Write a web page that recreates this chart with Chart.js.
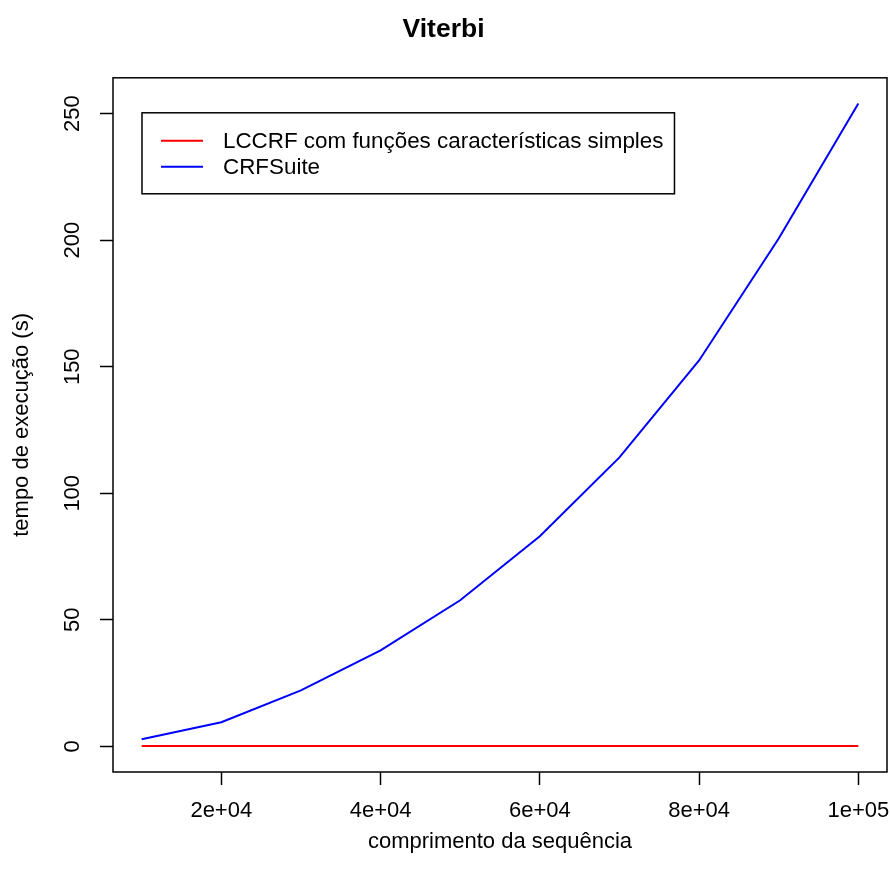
<!DOCTYPE html>
<html>
<head>
<meta charset="utf-8">
<script src="https://cdn.jsdelivr.net/npm/chart.js@4"></script>
<style>
  html, body { margin: 0; padding: 0; background: #ffffff; }
  #wrap { width: 891px; height: 880px; }
</style>
</head>
<body>
<div id="wrap"><canvas id="viterbiChart" width="891" height="880"></canvas></div>
<script>
// sequence lengths
const seqLengths = [10000, 20000, 30000, 40000, 50000, 60000, 70000, 80000, 90000, 100000];
// execution time (s)
const lccrfTimes = [0.1, 0.1, 0.1, 0.1, 0.1, 0.1, 0.1, 0.1, 0.1, 0.1];
const crfsuiteTimes = [2.8, 9.5, 22.1, 37.9, 57.7, 83.0, 114.2, 152.5, 200.7, 254.0];

const seriesLabels = ['LCCRF com funções características simples', 'CRFSuite'];
const xTicks = [20000, 40000, 60000, 80000, 100000];
const xTickLabels = ['2e+04', '4e+04', '6e+04', '8e+04', '1e+05'];
const yTicks = [0, 50, 100, 150, 200, 250];

const FONT = 'Liberation Sans, Arial, Helvetica, sans-serif';
const FSIZE = 22;

function toPoints(xs, ys)
{
    let pts = [];
    for(let i = 0; i < xs.length; i++)
        pts.push({x: xs[i], y: ys[i]});
    return pts;
}

// R-style frame, rotated y tick labels and the boxed legend
const rStyle = {
    id: 'rStyle',
    afterDraw(chart) {
        const ctx = chart.ctx;
        const a = chart.chartArea;
        const yScale = chart.scales.y;

        ctx.save();
        ctx.strokeStyle = '#000';
        ctx.lineWidth = 1.5;
        ctx.strokeRect(a.left, a.top, a.right - a.left, a.bottom - a.top);

        // y tick labels, read bottom to top
        ctx.fillStyle = '#000';
        ctx.font = FSIZE + 'px ' + FONT;
        ctx.textAlign = 'center';
        ctx.textBaseline = 'middle';
        for(let i = 0; i < yTicks.length; i++)
        {
            const py = yScale.getPixelForValue(yTicks[i]);
            ctx.save();
            ctx.translate(a.left - 40, py);
            ctx.rotate(-Math.PI / 2);
            ctx.fillText(String(yTicks[i]), 0, 0);
            ctx.restore();
        }

        // legend
        ctx.font = '22.4px ' + FONT;
        const sets = chart.data.datasets;
        let maxW = 0;
        for(let i = 0; i < sets.length; i++)
            maxW = Math.max(maxW, ctx.measureText(sets[i].label).width);
        const bx = a.left + 29, by = a.top + 35;
        const bw = 81 + maxW + 11, bh = 81;
        ctx.lineWidth = 1.5;
        ctx.strokeRect(bx, by, bw, bh);
        ctx.textAlign = 'left';
        for(let i = 0; i < sets.length; i++)
        {
            const ly = by + 28 + i * 26;
            ctx.strokeStyle = sets[i].borderColor;
            ctx.lineWidth = 2;
            ctx.beginPath();
            ctx.moveTo(bx + 19, ly);
            ctx.lineTo(bx + 61, ly);
            ctx.stroke();
            ctx.fillStyle = '#000';
            ctx.fillText(sets[i].label, bx + 81, ly + 1);
        }
        ctx.restore();
    }
};

const ctx = document.getElementById('viterbiChart');
const chart = new Chart(ctx, {
    type: 'line',
    data: {
        datasets: [{
            label: seriesLabels[0],
            data: toPoints(seqLengths, lccrfTimes),
            borderColor: '#ff0000',
            borderWidth: 2,
            pointRadius: 0,
            tension: 0
        },
        {
            label: seriesLabels[1],
            data: toPoints(seqLengths, crfsuiteTimes),
            borderColor: '#0000ff',
            borderWidth: 2,
            pointRadius: 0,
            tension: 0
        }]
    },
    options: {
        responsive: false,
        animation: false,
        layout: { padding: { left: 0, right: 4, top: 0, bottom: 0 } },
        scales: {
            x: {
                type: 'linear',
                min: 6400,
                max: 103600,
                afterBuildTicks: (s) => { s.ticks = xTicks.map(v => ({value: v})); },
                afterFit: (s) => { s.height = 108; s.paddingLeft = 0; s.paddingRight = 0; },
                grid: { drawOnChartArea: false, tickLength: 13, tickColor: '#000', tickWidth: 1.5 },
                border: { display: false },
                ticks: {
                    color: '#000',
                    font: { family: FONT, size: FSIZE },
                    padding: 13,
                    maxRotation: 0,
                    autoSkip: false,
                    callback: (v) => { let i = xTicks.indexOf(v); return i >= 0 ? xTickLabels[i] : ''; }
                },
                title: {
                    display: true,
                    text: 'comprimento da sequência',
                    color: '#000',
                    font: { family: FONT, size: FSIZE },
                    padding: { top: 0, bottom: 24.5 }
                }
            },
            y: {
                min: -10.16,
                max: 264.2,
                afterBuildTicks: (s) => { s.ticks = yTicks.map(v => ({value: v})); },
                afterFit: (s) => { s.width = 113; s.paddingTop = 0; s.paddingBottom = 0; },
                grid: { drawOnChartArea: false, tickLength: 13, tickColor: '#000', tickWidth: 1.5 },
                border: { display: false },
                ticks: { display: false },
                title: {
                    display: true,
                    text: 'tempo de execução (s)',
                    color: '#000',
                    font: { family: FONT, size: FSIZE },
                    padding: { top: 8.5, bottom: 0 }
                }
            }
        },
        plugins: {
            legend: { display: false },
            tooltip: { enabled: false },
            title: {
                display: true,
                text: 'Viterbi',
                color: '#000',
                font: { family: FONT, size: 26.5, weight: 'bold' },
                padding: { top: 14, bottom: 32 }
            }
        }
    },
    plugins: [rStyle]
});
</script>
</body>
</html>
